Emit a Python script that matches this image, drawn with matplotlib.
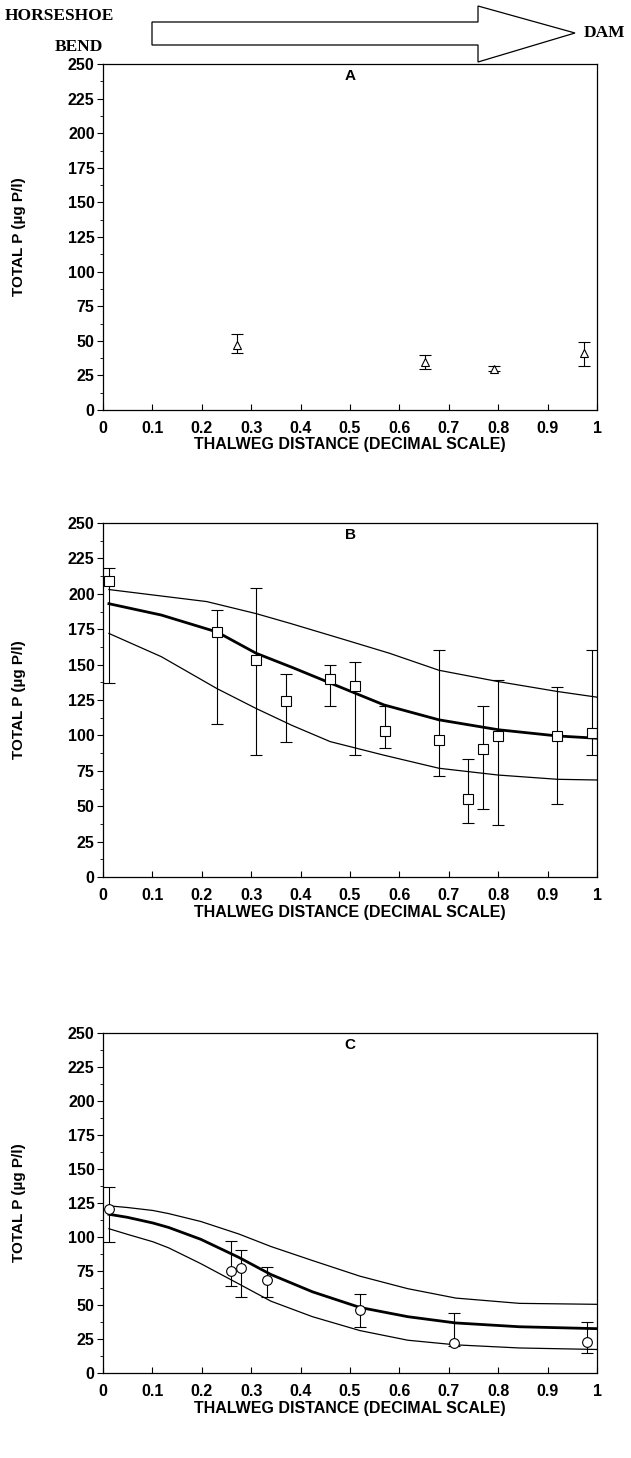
import numpy as np
import matplotlib
matplotlib.use("Agg")
import matplotlib.pyplot as plt
from matplotlib.patches import Polygon
from matplotlib.ticker import MultipleLocator

plt.rcParams['font.family'] = ['Liberation Sans', 'DejaVu Sans']

# panel A - triangles
a_x = [0.271, 0.652, 0.791, 0.973]
a_y = [47, 34.7, 29.9, 41.4]
a_lo = [41, 29.4, 28.2, 31.8]
a_hi = [55, 39.5, 31.8, 49.1]

# panel B - squares
b_x = [0.012, 0.231, 0.310, 0.370, 0.460, 0.511, 0.570, 0.680, 0.739, 0.770, 0.800, 0.920, 0.990]
b_y = [209, 173, 153.5, 124.3, 140.1, 135.1, 103.3, 96.8, 55.3, 90.6, 99.6, 99.3, 101.7]
b_lo = [137.2, 108.3, 85.9, 95.1, 121, 85.9, 91.3, 71.3, 38.4, 47.8, 36.5, 51.6, 85.9]
b_hi = [218.2, 188.8, 204.3, 143.1, 150, 152.1, 120.5, 160.5, 83.6, 120.8, 138.9, 134.2, 160.5]

# panel B - fitted curve and bounds
b_fit_x = [0.012, 0.118, 0.231, 0.310, 0.383, 0.460, 0.569, 0.680, 0.800, 0.920, 1.0]
b_fit_y = [193, 185, 173, 158, 148, 137, 121.5, 111, 104, 99.6, 98]
b_up_x = [0.012, 0.21, 0.31, 0.38, 0.49, 0.58, 0.68, 0.80, 0.92, 1.0]
b_up_y = [203, 194.5, 186, 179, 167.5, 158, 146, 138, 131, 127]
b_low_x = [0.012, 0.118, 0.231, 0.310, 0.383, 0.460, 0.569, 0.680, 0.800, 0.920, 1.0]
b_low_y = [172, 155.6, 133, 119, 107, 95.6, 86, 76.8, 72, 69, 68.5]

# panel C - circles
c_x = [0.012, 0.260, 0.280, 0.331, 0.520, 0.710, 0.980]
c_y = [120.6, 75.1, 77, 68.5, 46.4, 21.8, 23]
c_lo = [96.5, 64.3, 55.6, 56, 34, 19.5, 14.9]
c_hi = [136.7, 97.2, 90.8, 77.6, 57.9, 44.3, 37.2]

# panel C - curves
c_curve_x = [0.012, 0.049, 0.101, 0.133, 0.198, 0.275, 0.340, 0.424, 0.520, 0.617, 0.714, 0.843, 1.0]
c_up_y = [122.9, 121.7, 119.5, 117.2, 111.4, 102.2, 93, 82.7, 71.2, 62, 55.1, 51.2, 50.5]
c_fit_y = [116.7, 114.5, 110.3, 107, 98.3, 85, 72.4, 59.7, 48.2, 41.4, 36.8, 34, 32.6]
c_low_y = [106.1, 102, 96.5, 92, 80.4, 65.5, 52.8, 41.4, 31.2, 24.1, 20.7, 18.4, 17.3]

W, H = 631, 1458
fig = plt.figure(figsize=(W / 100, H / 100), dpi=100)


def make_ax(top, bottom, letter):
    ax = fig.add_axes([103 / W, 1 - bottom / H, 494 / W, (bottom - top) / H])
    ax.set_xlim(0, 1)
    ax.set_ylim(0, 250)
    ax.yaxis.set_major_locator(MultipleLocator(25))
    ax.yaxis.set_minor_locator(MultipleLocator(12.5))
    ax.set_xticks([0, .1, .2, .3, .4, .5, .6, .7, .8, .9, 1])
    ax.set_xticklabels(['0', '0.1', '0.2', '0.3', '0.4', '0.5', '0.6', '0.7', '0.8', '0.9', '1'])
    ax.tick_params(axis='x', direction='in', length=4, width=0.8, labelsize=11.5, pad=8)
    ax.tick_params(axis='y', direction='out', length=4, width=0.8, labelsize=11.5, pad=2)
    ax.tick_params(axis='y', which='minor', direction='out', length=2, width=0.6)
    for lab in ax.get_xticklabels() + ax.get_yticklabels():
        lab.set_fontweight('bold')
    for sp in ax.spines.values():
        sp.set_linewidth(0.9)
    ax.set_xlabel('THALWEG DISTANCE (DECIMAL SCALE)', fontsize=11.5, fontweight='bold', labelpad=1)
    ax.set_ylabel('TOTAL P (µg P/l)', fontsize=11, fontweight='bold', labelpad=30)
    ax.text(0.5, 0.985, letter, transform=ax.transAxes, ha='center', va='top',
            fontsize=11, fontweight='bold')
    return ax


def err(y, lo, hi):
    return [np.array(y) - np.array(lo), np.array(hi) - np.array(y)]


axA = make_ax(64, 410, 'A')
axA.errorbar(a_x, a_y, yerr=err(a_y, a_lo, a_hi), fmt='^', ms=6, mfc='white',
             mec='black', mew=0.8, ecolor='black', elinewidth=0.8, capsize=4, capthick=0.8)

axB = make_ax(523, 877, 'B')
axB.plot(b_up_x, b_up_y, color='black', lw=0.9)
axB.plot(b_low_x, b_low_y, color='black', lw=0.9)
axB.plot(b_fit_x, b_fit_y, color='black', lw=2.0)
axB.errorbar(b_x, b_y, yerr=err(b_y, b_lo, b_hi), fmt='s', ms=7, mfc='white',
             mec='black', mew=0.8, ecolor='black', elinewidth=0.8, capsize=4, capthick=0.8)

axC = make_ax(1033, 1373, 'C')
axC.plot(c_curve_x, c_up_y, color='black', lw=0.9)
axC.plot(c_curve_x, c_low_y, color='black', lw=0.9)
axC.plot(c_curve_x, c_fit_y, color='black', lw=2.0)
axC.errorbar(c_x, c_y, yerr=err(c_y, c_lo, c_hi), fmt='o', ms=7, mfc='white',
             mec='black', mew=0.8, ecolor='black', elinewidth=0.8, capsize=4, capthick=0.8)

# arrow across the top, in pixel coords
top = fig.add_axes([0, 0, 1, 1], zorder=-1)
top.set_xlim(0, W)
top.set_ylim(H, 0)
top.axis('off')
arrow = Polygon([(152, 22), (478, 22), (478, 6), (575, 33), (478, 62), (478, 45), (152, 45)],
                closed=True, facecolor='white', edgecolor='black', lw=0.9)
top.add_patch(arrow)
top.text(5, 16, 'HORSESHOE', family='Liberation Serif', fontweight='bold', fontsize=12.5,
         ha='left', va='center')
top.text(55, 47, 'BEND', family='Liberation Serif', fontweight='bold', fontsize=12.5,
         ha='left', va='center')
top.text(584, 33, 'DAM', family='Liberation Serif', fontweight='bold', fontsize=12.5,
         ha='left', va='center')

fig.savefig('out.png', dpi=100)
